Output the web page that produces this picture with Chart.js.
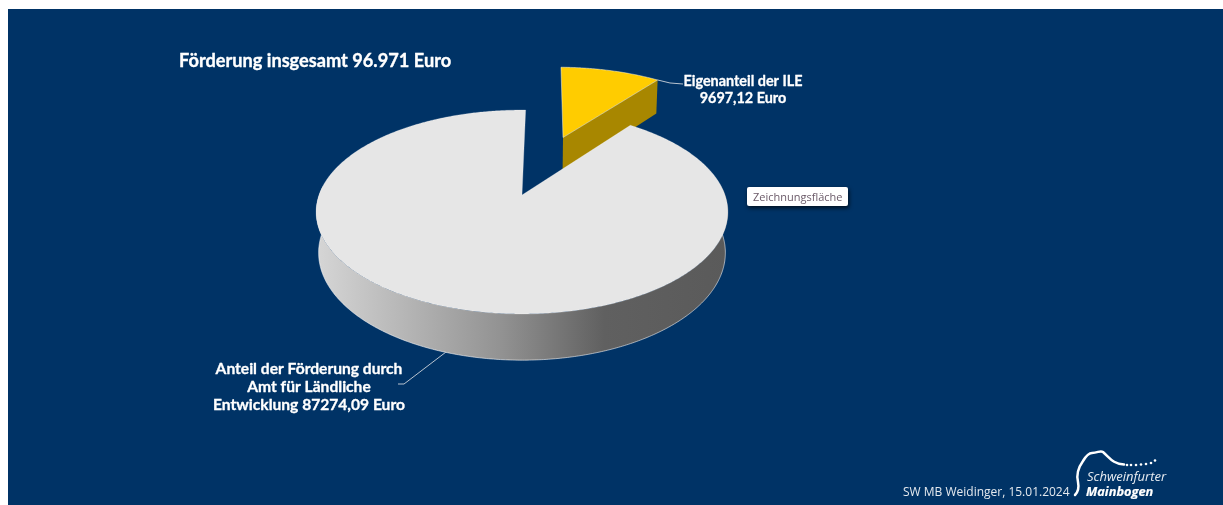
<!DOCTYPE html>
<html><head><meta charset="utf-8">
<script src="https://cdn.jsdelivr.net/npm/chart.js@4"></script>
<style>
html,body{margin:0;padding:0;background:#fff;overflow:hidden}
#wrap{position:absolute;left:0;top:0;width:1223px;height:505px}
#wrap:before{content:"";position:absolute;left:8px;top:9px;right:0;bottom:0;background:#003366}
#c{position:absolute;left:0;top:0}
</style></head><body>
<div id="wrap"><canvas id="c" width="1223" height="505"></canvas></div>
<script>
const categories = ["Eigenanteil der ILE", "Anteil der Förderung durch Amt für Ländliche Entwicklung"];
const values = [9697.12, 87274.09];
const titleText = "Förderung insgesamt 96.971 Euro";
const labelYellow = ["Eigenanteil der ILE", "9697,12 Euro"];
const labelMain = ["Anteil der Förderung durch", "Amt für Ländliche", "Entwicklung 87274,09 Euro"];
const footerText = "SW MB Weidinger, 15.01.2024";
const logoLines = ["Schweinfurter", "Mainbogen"];
const sliceColors = ["#FFCC00", "#E6E6E6"];
const sideColors = ["#A88700", null];

const view = {persp:-1/6, squash:99.17/203.1, depth:40.5, depthW:0.012, explode:[0.68,0]};

function project(el, X, Y, Z){
  const W = 1 + view.persp*Y + view.depthW*Z;
  return {x: el.x + el.outerRadius*X/W,
          y: el.y + (el.outerRadius*view.squash*Y + view.depth*Z)/W};
}
function ground(el, i, ang, r){
  const mid = (el.startAngle+el.endAngle)/2, e = view.explode[i];
  return {X: e*Math.cos(mid)+r*Math.cos(ang), Y: e*Math.sin(mid)+r*Math.sin(ang)};
}
function wedge(el, i, Z){
  const pts=[]; const g0=ground(el,i,0,0); pts.push(project(el,g0.X,g0.Y,Z));
  const n=Math.ceil((el.endAngle-el.startAngle)/0.01);
  for(let k=0;k<=n;k++){const a=el.startAngle+(el.endAngle-el.startAngle)*k/n;const g=ground(el,i,a,1);pts.push(project(el,g.X,g.Y,Z));}
  return pts;
}
function trace(ctx, pts, close){
  ctx.beginPath();pts.forEach((p,k)=>k?ctx.lineTo(p.x,p.y):ctx.moveTo(p.x,p.y));if(close)ctx.closePath();
}
function arcAt(el,i,a,Z){const g=ground(el,i,a,1);return project(el,g.X,g.Y,Z);}

function wall(ctx, el, i){
  const pts=[],low=[];
  const a0=-0.1, a1=Math.PI+0.1;
  for(let a=a0;a<=a1;a+=0.01){pts.push(arcAt(el,i,a,0));low.push(arcAt(el,i,a,1));}
  const g=ctx.createLinearGradient(el.x-206,0,el.x+206,0);
  g.addColorStop(0,"#D6D6D6");g.addColorStop(0.2,"#B8B8B8");g.addColorStop(0.45,"#929292");
  g.addColorStop(0.7,"#606060");g.addColorStop(1,"#5A5A5A");
  trace(ctx,pts.concat(low.slice().reverse()),true);
  ctx.fillStyle=g;ctx.fill();
  trace(ctx,low,false);ctx.strokeStyle="rgba(255,255,255,.55)";ctx.lineWidth=1;ctx.stroke();
}
function text(ctx, lines, cx, ys, font, color, align, bolden){
  ctx.font=font;ctx.fillStyle=color;ctx.textAlign=align||"center";ctx.textBaseline="alphabetic";
  lines.forEach((s,k)=>{
    ctx.fillText(s,cx,ys[k]);
    if(bolden){ctx.strokeStyle=color;ctx.lineWidth=bolden;ctx.strokeText(s,cx,ys[k]);}
  });
}

const pie3d = {
  id:"pie3d",
  beforeDatasetsDraw(chart){
    const ctx=chart.ctx, arcs=chart.getDatasetMeta(0).data;
    ctx.save();ctx.lineJoin="round";
    const y=arcs[0], m=arcs[1];
    const gv=ground(y,0,0,0), ge=ground(y,0,y.endAngle,1);
    trace(ctx,[project(y,gv.X,gv.Y,0),project(y,ge.X,ge.Y,0),project(y,ge.X,ge.Y,1),project(y,gv.X,gv.Y,1)],true);
    ctx.fillStyle=sideColors[0];ctx.fill();
    trace(ctx,wedge(y,0,0),true);ctx.fillStyle=sliceColors[0];ctx.fill();
    ctx.strokeStyle="rgba(255,255,255,.45)";ctx.lineWidth=1;ctx.stroke();
    wall(ctx,m,1);
    trace(ctx,wedge(m,1,0),true);ctx.fillStyle=sliceColors[1];ctx.fill();
    ctx.strokeStyle="rgba(255,255,255,.3)";ctx.lineWidth=0.8;ctx.stroke();
    ctx.strokeStyle="#B9C4CF";ctx.lineWidth=1;
    const p=arcAt(y,0,y.endAngle,0);
    ctx.beginPath();ctx.moveTo(p.x,p.y);ctx.quadraticCurveTo(p.x+12,p.y+4,683,84);ctx.stroke();
    ctx.beginPath();ctx.moveTo(446,352);ctx.lineTo(404,384);ctx.lineTo(398,384);ctx.stroke();
    ctx.restore();
    return false;
  },
  afterDraw(chart){
    const ctx=chart.ctx;ctx.save();ctx.lineJoin="round";
    text(ctx,[titleText],179,[67],"bold 18.2px Lato","#fff","left",0.35);
    text(ctx,labelYellow,743,[86,103],"bold 14.4px Lato","#fff","center",0.3);
    text(ctx,labelMain,309,[374,392,410],"bold 15.6px Lato","#fff","center",0.3);
    text(ctx,[footerText],903,[496],"12px 'Open Sans'","#E4E9EE","left");
    ctx.save();ctx.shadowColor="rgba(0,0,0,.7)";ctx.shadowBlur=4;ctx.shadowOffsetX=1;ctx.shadowOffsetY=2;
    ctx.fillStyle="#fff";ctx.beginPath();ctx.roundRect(747,187,101,19,2);ctx.fill();ctx.restore();
    text(ctx,["Zeichnungsfläche"],753,[201],"11px 'Open Sans'","#6B5A68","left");
    ctx.strokeStyle="#fff";ctx.lineWidth=2.5;ctx.lineCap="round";ctx.lineJoin="round";
    ctx.beginPath();ctx.moveTo(1075,495);
    ctx.bezierCurveTo(1079,491,1079,487,1078,482);
    ctx.bezierCurveTo(1076,474,1078,468,1083,461);
    ctx.bezierCurveTo(1086,456,1089,453,1092,453);
    ctx.bezierCurveTo(1098,453,1100,450,1103,452);
    ctx.bezierCurveTo(1110,458,1113,464,1124,464.5);ctx.stroke();
    ctx.fillStyle="#fff";
    [[1127,465],[1131,465],[1136,465],[1141,464.5],[1146,464],[1151,463],[1155,460.5]].forEach(d=>{ctx.beginPath();ctx.arc(d[0],d[1],1.3,0,7);ctx.fill();});
    text(ctx,[logoLines[0]],1087,[481],"italic 13px 'Open Sans'","#E8EDF2","left");
    text(ctx,[logoLines[1]],1086,[496],"italic bold 12.8px 'Open Sans'","#fff","left",0.2);
    ctx.restore();
  }
};

new Chart(document.getElementById("c"),{
  type:"pie",
  data:{labels:categories,datasets:[{data:values,backgroundColor:sliceColors,borderWidth:0,hoverOffset:0,radius:203}]},
  options:{
    responsive:false,animation:false,events:[],rotation:1.2,
    layout:{padding:{left:0,right:179,top:0,bottom:115}},
    plugins:{legend:{display:false},tooltip:{enabled:false},title:{display:false}}
  },
  plugins:[pie3d]
});
</script>
</body></html>
